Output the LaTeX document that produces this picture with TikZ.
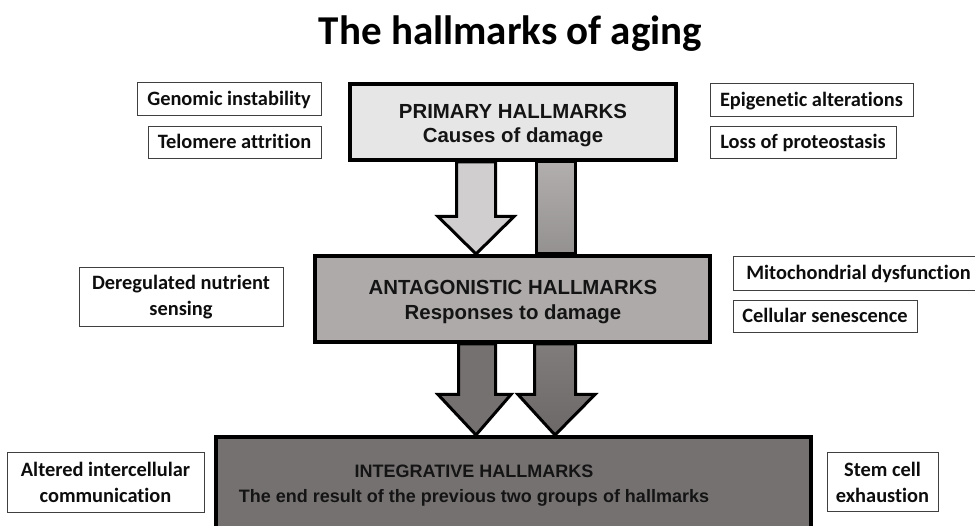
\documentclass[tikz,border=0pt]{standalone}
\usepackage{fontspec}
\setmainfont{Carlito}[Ligatures=NoCommon]
\newfontfamily\boxfont{Liberation Sans}
\usetikzlibrary{backgrounds}

\definecolor{hmLight}{HTML}{E7E6E6}
\definecolor{hmMidLight}{HTML}{D0CECE}
\definecolor{hmMid}{HTML}{AEAAAA}
\definecolor{hmDark}{HTML}{767171}

\begin{document}
\begin{tikzpicture}[x=1pt,y=-1pt,
  groupbox/.style={draw=black, line width=4pt, inner sep=0pt},
  grouptext/.style={font=\boxfont\bfseries\fontsize{20.4}{24}\selectfont, align=center, text=black!92, inner sep=0pt},
  sidebox/.style={draw=black!75, line width=1pt, inner sep=0pt, align=center,
    font=\bfseries\fontsize{20.4}{26}\selectfont, text=black!95},
  oneline/.style={text height=14pt, text depth=2pt},
  blockarrow/.style={draw=black, line width=3pt, miter limit=10}
]
\useasboundingbox (0,0) rectangle (975,526);

% title
\node[anchor=base, font=\bfseries\fontsize{41}{41}\selectfont] (title) at (510.5,45) {The hallmarks of aging};

% the three groups of hallmarks
\node[groupbox, fill=hmLight, minimum width=326pt, minimum height=76pt] (prim) at (513,122) {};
\node[groupbox, fill=hmMid, minimum width=395pt, minimum height=86pt] (anta) at (512.5,299) {};
\node[groupbox, fill=hmDark, minimum width=595pt, minimum height=123pt] (integ) at (513.5,498.5) {};

\node[grouptext] (primText) at (513,125.5) {PRIMARY HALLMARKS\\Causes of damage};
\node[grouptext, font=\boxfont\bfseries\fontsize{20.4}{25}\selectfont] (antaText) at (513,302.5) {ANTAGONISTIC HALLMARKS\\Responses to damage};
\node[grouptext, font=\boxfont\bfseries\fontsize{18}{25}\selectfont] (integText) at (474,485.5) {INTEGRATIVE HALLMARKS\\The end result of the previous two groups of hallmarks};

% block arrows between the groups
\begin{scope}[on background layer]
  \draw[blockarrow, fill=hmMidLight]
    (456.5,0 |- prim.south) -- (456.5,216.5) -- (438,216.5) -- (476,0 |- anta.north)
    -- (514,216.5) -- (495.5,216.5) -- (495.5,0 |- prim.south) -- cycle;
  \draw[blockarrow, top color=hmMid!95!white, bottom color=hmMid!85!black]
    (536.5,0 |- prim.south) rectangle (575.5,0 |- anta.north);
  \draw[blockarrow, fill=hmDark]
    (458.5,0 |- anta.south) -- (458.5,394.5) -- (438,394.5) -- (476,0 |- integ.north)
    -- (511,394.5) -- (495.5,394.5) -- (495.5,0 |- anta.south) -- cycle;
  \draw[blockarrow, top color=hmDark!92!white, bottom color=hmDark!92!black]
    (534.5,0 |- anta.south) -- (534.5,394.5) -- (518,394.5) -- (555,0 |- integ.north)
    -- (595,394.5) -- (575.5,394.5) -- (575.5,0 |- anta.south) -- cycle;
\end{scope}

% individual hallmarks
\node[sidebox, oneline, minimum width=184pt, minimum height=33pt] (gen) at (229,99.5) {Genomic instability};
\node[sidebox, oneline, minimum width=173pt, minimum height=32pt] (tel) at (234.5,143) {Telomere attrition};
\node[sidebox, oneline, minimum width=203pt, minimum height=33pt] (epi) at (811.5,100.5) {Epigenetic alterations};
\node[sidebox, oneline, minimum width=186pt, minimum height=32pt] (prot) at (803,143) {Loss of proteostasis};
\node[sidebox, minimum width=204pt, minimum height=59pt] (nutr) at (181,297.5) {Deregulated nutrient\\sensing};
\node[sidebox, oneline, minimum width=251pt, minimum height=34pt] (mito) at (858.5,274) {Mitochondrial dysfunction};
\node[sidebox, oneline, minimum width=184pt, minimum height=32pt] (sen) at (825,317) {Cellular senescence};
\node[sidebox, minimum width=197pt, minimum height=59pt] (comm) at (105.5,482.5) {Altered intercellular\\communication};
\node[sidebox, minimum width=111pt, minimum height=58pt] (stem) at (882.5,482) {Stem cell\\exhaustion};
\end{tikzpicture}
\end{document}
